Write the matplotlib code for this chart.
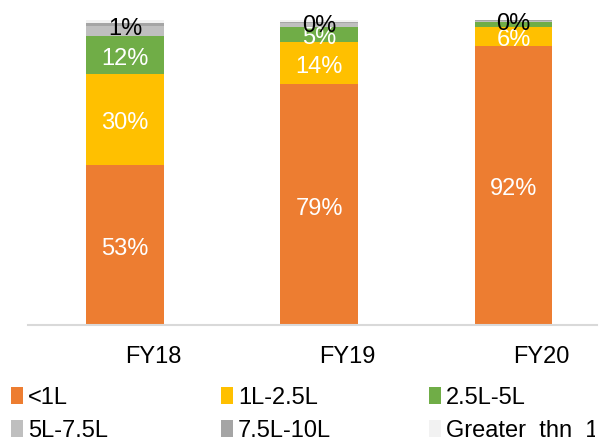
import matplotlib
matplotlib.use("Agg")
import matplotlib.pyplot as plt
import matplotlib.patches as mpatches
import matplotlib.transforms as mtransforms
import numpy as np

YEARS = ["FY18", "FY19", "FY20"]
SERIES = ["<1L", "1L-2.5L", "2.5L-5L", "5L-7.5L", "7.5L-10L", "Greater  thn  10L"]
COLORS = ["#ED7D31", "#FFC000", "#70AD47", "#BFBFBF", "#A5A5A5", "#F2F2F2"]

# share of each ticket-size bucket (%), per year
LT_1L = [52.6, 79.0, 91.6]
L1_2_5 = [29.6, 13.8, 6.2]
L2_5_5 = [12.4, 4.9, 1.7]
L5_7_5 = [3.4, 1.3, 0.3]
L7_5_10 = [1.0, 0.4, 0.1]
GT_10L = [1.0, 0.6, 0.1]

VALUES = [LT_1L, L1_2_5, L2_5_5, L5_7_5, L7_5_10, GT_10L]
WHITE_LABELS = [0, 1, 2]
BLACK_LABELS = [4]

plt.rcParams.update({
    "font.family": ["Liberation Sans", "DejaVu Sans"],
    "font.size": 17,
})

fig = plt.figure(figsize=(6.12, 4.41), dpi=100)
ax = fig.add_axes([28 / 612, 116 / 441, 569 / 612, 305 / 441])

# nudge data labels a few pixels down so the digits sit centred like Excel
lab_tr = ax.transData + mtransforms.ScaledTranslation(0, -4 / 100, fig.dpi_scale_trans)

x = np.arange(len(YEARS))
bottom = np.zeros(len(YEARS))
for i, (vals, color) in enumerate(zip(VALUES, COLORS)):
    vals = np.array(vals)
    ax.bar(x, vals, width=0.40, bottom=bottom, color=color, linewidth=0)
    for j, v in enumerate(vals):
        yc = bottom[j] + v / 2
        if i in WHITE_LABELS and v >= 2.5:
            ax.text(x[j], yc, f"{v:.0f}%", ha="center", va="center",
                    color="white", fontsize=17, transform=lab_tr)
        elif i in BLACK_LABELS:
            ax.text(x[j], yc, f"{v:.0f}%", ha="center", va="center",
                    color="black", fontsize=17, transform=lab_tr)
    bottom += vals

ax.set_xlim(-0.5, 2.43)
ax.set_ylim(0, 100)
ax.set_yticks([])
ax.set_xticks(x)
ax.set_xticklabels(YEARS)
ax.tick_params(axis="x", length=0, pad=15)
shift = mtransforms.ScaledTranslation(28 / 100, 0, fig.dpi_scale_trans)
for lbl in ax.get_xticklabels():
    lbl.set_transform(lbl.get_transform() + shift)
for side in ["top", "right", "left"]:
    ax.spines[side].set_visible(False)
ax.spines["bottom"].set_color("#D9D9D9")
ax.spines["bottom"].set_linewidth(1.5)

# legend: three columns with fixed positions
col_x = [11, 221, 429]
clip = mtransforms.TransformedBbox(
    mtransforms.Bbox([[0, 0], [595 / 612, 1]]), fig.transFigure)
for c in range(3):
    idx = [c, c + 3]
    handles = [mpatches.Patch(color=COLORS[k], linewidth=0) for k in idx]
    leg = fig.legend(handles, [SERIES[k] for k in idx], loc="center left",
                     bbox_to_anchor=(col_x[c] / 612, (441 - 414.5) / 441),
                     frameon=False, borderpad=0, borderaxespad=0,
                     handlelength=0.51, handleheight=0.72, handletextpad=0.2,
                     labelspacing=0.46, fontsize=17)
    for t in leg.get_texts():
        t.set_clip_box(clip)
        t.set_clip_on(True)

fig.savefig("out.png", dpi=100)
